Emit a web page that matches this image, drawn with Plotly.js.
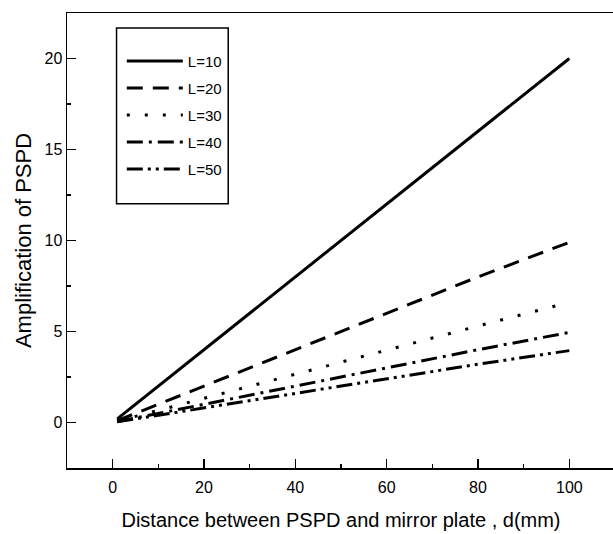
<!DOCTYPE html>
<html>
<head>
<meta charset="utf-8">
<script src="https://cdn.plot.ly/plotly-3.0.1.min.js"></script>
<style>html,body{margin:0;padding:0;background:#fff;overflow:hidden;}#chart{width:615px;height:534px;}</style>
</head>
<body>
<div id="chart"></div>
<script>
// distance d (mm)
var distance = [1, 20, 40, 60, 80, 100];
var seriesNames = ["L=10", "L=20", "L=30", "L=40", "L=50"];
var ampL10 = [0.2, 4.0, 8.0, 12.0, 16.0, 20.0];
var ampL20 = [0.1, 2.0, 4.0, 6.0, 8.0, 9.9];
var ampL30 = [0.07, 1.33, 2.67, 4.0, 5.3, 6.6];
var ampL40 = [0.05, 1.0, 2.0, 3.0, 4.0, 4.95];
var ampL50 = [0.04, 0.8, 1.6, 2.4, 3.2, 3.95];
var xTicks = [0, 20, 40, 60, 80, 100];
var yTicks = [0, 5, 10, 15, 20];

var values = [ampL10, ampL20, ampL30, ampL40, ampL50];
var dashes = ["solid", "16px,10px", "3px,15px", "16px,6px,3px,6px", "16px,5px,3px,5px,3px,5px"];

var traces = values.map(function (v, i) {
  return {
    x: distance, y: v, type: "scatter", mode: "lines",
    name: seriesNames[i], legendgroup: "g" + i,
    line: {color: "#000", width: 3, dash: dashes[i]}
  };
});

var font = "Arial, 'Liberation Sans', sans-serif";
var layout = {
  width: 615, height: 534,
  margin: {l: 67, r: 0, t: 13, b: 66},
  paper_bgcolor: "#fff", plot_bgcolor: "#fff",
  font: {family: font, color: "#000"},
  showlegend: true,
  legend: {
    x: 0.1, y: 0.93, xanchor: "left", yanchor: "top",
    bgcolor: "rgba(0,0,0,0)", borderwidth: 0,
    font: {size: 15, family: font, color: "#000"},
    traceorder: "grouped", tracegroupgap: 4.5, itemwidth: 56
  },
  xaxis: {
    range: [-10, 110], tickvals: xTicks, ticks: "inside", ticklen: 9, tickwidth: 1.5,
    minor: {dtick: 10, ticks: "inside", ticklen: 4, tickwidth: 1.5, tickcolor: "#000"},
    tickcolor: "#000", showgrid: false, zeroline: false,
    showline: true, linecolor: "#000", linewidth: 1.5, mirror: true,
    tickfont: {size: 16}, ticklabelstandoff: 4,
    title: {text: "Distance between PSPD and mirror plate , d(mm)", font: {size: 20}, standoff: 18}
  },
  yaxis: {
    range: [-2.5, 22.5], tickvals: yTicks, ticks: "inside", ticklen: 9, tickwidth: 1.5,
    minor: {dtick: 2.5, ticks: "inside", ticklen: 4, tickwidth: 1.5, tickcolor: "#000"},
    tickcolor: "#000", showgrid: false, zeroline: false,
    showline: true, linecolor: "#000", linewidth: 1.5, mirror: true,
    tickfont: {size: 16},
    title: {text: "Amplification of PSPD", font: {size: 22}, standoff: 7}
  },
  shapes: [{
    type: "rect", xref: "paper", yref: "paper",
    x0: 0.0904, x1: 0.2942, y0: 0.581, y1: 0.967,
    line: {color: "#000", width: 1.5}, fillcolor: "rgba(0,0,0,0)"
  }]
};

Plotly.newPlot("chart", traces, layout, {displayModeBar: false, staticPlot: true});
</script>
</body>
</html>
